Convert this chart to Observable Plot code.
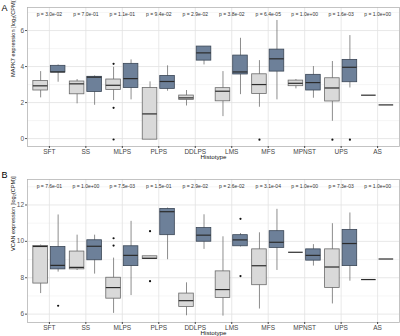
<!DOCTYPE html>
<html>
<head>
<meta charset="utf-8">
<script src="https://cdn.jsdelivr.net/npm/d3@7"></script>
<script src="https://cdn.jsdelivr.net/npm/@observablehq/plot@0.6"></script>
<style>
  html, body { margin: 0; padding: 0; background: #fff; }
  #chart { width: 400px; height: 336px; overflow: hidden; }
  #chart svg { display: block; }
</style>
</head>
<body>
<div id="chart"></div>
<script>
const categories = ["SFT","SS","MLPS","PLPS","DDLPS","LMS","MFS","MPNST","UPS","AS"];

// Panel A: MAPK7 (light = group 0, dark = group 1)
const mapk7LightLo  = [2.26,1.93,2.11,-0.06,1.81,1.22,1.74,2.76,0.96,2.41];
const mapk7LightQ1  = [2.67,2.46,2.70,-0.06,2.15,2.07,2.48,2.91,2.06,2.41];
const mapk7LightMed = [2.93,3.04,2.96,1.37,2.26,2.63,3.00,3.07,2.81,2.41];
const mapk7LightQ3  = [3.20,3.17,3.28,2.81,2.39,2.80,3.57,3.22,3.35,2.41];
const mapk7LightHi  = [3.72,3.28,3.96,3.15,2.67,3.72,4.33,3.28,4.28,2.41];
const mapk7DarkLo   = [3.13,1.85,2.15,2.63,4.09,2.44,2.15,2.24,2.81,1.87];
const mapk7DarkQ1   = [3.67,2.59,2.81,2.76,4.33,3.56,3.72,2.67,3.13,1.87];
const mapk7DarkMed  = [3.70,3.41,3.33,3.17,4.76,3.70,4.43,3.11,3.96,1.87];
const mapk7DarkQ3   = [4.04,3.43,4.15,3.48,5.11,4.61,4.94,3.54,4.37,1.87];
const mapk7DarkHi   = [4.09,3.48,4.37,4.04,5.11,5.57,6.56,4.00,5.72,1.87];
const mapk7OutCat   = ["MLPS","MLPS","MLPS","MFS","UPS","UPS"];
const mapk7OutGroup = [0,0,0,0,0,1];
const mapk7OutVal   = [4.15,1.71,-0.05,-0.06,-0.06,-0.06];
const mapk7P = ["3.0e-02","7.0e-01","1.1e-01","9.4e-02","2.9e-02","3.8e-02","6.4e-05","1.0e+00","1.6e-03","1.0e+00"];
const mapk7Ticks = [0,2,4,6];
const mapk7Minor = [1,3,5,7];

// Panel B: VCAN
const vcanLightLo  = [7.13,8.40,6.04,9.03,5.91,5.89,6.28,9.40,6.56,7.90];
const vcanLightQ1  = [7.68,8.46,6.85,9.03,6.39,6.89,7.59,9.40,7.44,7.90];
const vcanLightMed = [9.72,8.57,7.46,9.07,6.74,7.35,8.66,9.40,8.59,7.90];
const vcanLightQ3  = [9.75,9.44,8.00,9.18,7.13,8.35,9.56,9.40,9.56,7.90];
const vcanLightHi  = [9.80,10.34,9.08,9.18,7.72,10.25,10.47,9.40,10.97,7.90];
const vcanDarkLo   = [8.31,8.20,7.02,8.99,9.56,9.69,8.40,8.64,7.81,9.03];
const vcanDarkQ1   = [8.46,8.96,8.64,10.34,9.98,9.73,9.64,8.94,8.64,9.03];
const vcanDarkMed  = [8.68,9.73,9.23,11.63,10.34,10.08,9.95,9.23,9.88,9.03];
const vcanDarkQ3   = [9.69,10.06,9.73,11.78,10.73,10.34,10.56,9.56,10.63,9.03];
const vcanDarkHi   = [11.45,10.34,11.10,11.83,11.46,10.43,11.76,9.82,11.56,9.03];
const vcanOutCat   = ["SFT","MLPS","MLPS","PLPS","PLPS","LMS","LMS"];
const vcanOutGroup = [1,0,0,0,0,1,1];
const vcanOutVal   = [6.46,10.17,9.77,10.56,7.81,11.24,8.09];
const vcanP = ["7.6e-01","1.0e+00","7.5e-03","1.5e-01","2.9e-02","2.6e-02","3.1e-04","1.0e+00","7.3e-03","1.0e+00"];
const vcanTicks = [6,8,10,12];
const vcanMinor = [7,9,11,13];

const groupColors = ["#d9d9d9", "#6d8099"];
const groupStroke = ["#6a6a6a", "#3a4656"];
const OFF = 0.24, HALF = 0.2;
const FONT = "Liberation Sans, Arial, Helvetica, sans-serif";

function panel(cfg) {
  const rows = [];
  for (let g = 0; g < 2; g++) {
    const s = cfg.stats[g];
    categories.forEach((c, i) => {
      const x = i + (g === 0 ? -OFF : OFF);
      rows.push({g, x, xa: x - HALF, xb: x + HALF,
        lo: s[0][i], q1: s[1][i], med: s[2][i], q3: s[3][i], hi: s[4][i]});
    });
  }
  const outs = cfg.outCat.map((c, k) => ({
    x: categories.indexOf(c) + (cfg.outGroup[k] === 0 ? -OFF : OFF),
    y: cfg.outVal[k]
  }));
  const pv = cfg.p.map((p, i) => ({i, label: "p = " + p}));
  const idx = d3.range(categories.length);
  return Plot.plot({
    width: 400, height: cfg.height,
    marginLeft: 27, marginRight: 1,
    marginTop: cfg.marginTop, marginBottom: cfg.marginBottom,
    style: {fontFamily: FONT, background: "white", overflow: "visible"},
    x: {domain: [-0.6, 9.6], axis: null},
    y: {domain: cfg.yDomain, axis: null},
    marks: [
      Plot.ruleY(cfg.minor, {stroke: "#ececec", strokeWidth: 0.5}),
      Plot.ruleY(cfg.ticks, {stroke: "#e2e2e2", strokeWidth: 0.8}),
      Plot.ruleX(idx, {stroke: "#e2e2e2", strokeWidth: 0.8}),
      Plot.ruleX(rows, {x: "x", y1: "lo", y2: "hi", stroke: "#707070", strokeWidth: 0.8}),
      Plot.rect(rows, {x1: "xa", x2: "xb", y1: "q1", y2: "q3",
        fill: d => groupColors[d.g], stroke: d => groupStroke[d.g], strokeWidth: 0.8}),
      Plot.ruleY(rows, {y: "med", x1: "xa", x2: "xb", stroke: "#2b2b2b", strokeWidth: 1.2}),
      Plot.dot(outs, {x: "x", y: "y", r: 1.1, fill: "#111", stroke: null}),
      Plot.text(pv, {x: "i", text: "label", frameAnchor: "top", dy: 4.5, fontSize: 5, fill: "#333"}),
      Plot.frame({stroke: "#b5b5b5", strokeWidth: 0.8}),
      Plot.axisY(cfg.ticks, {tickSize: 2, tickPadding: 1.5, fontSize: 6.5, color: "#555", label: null}),
      Plot.axisX(idx, {tickSize: 2, tickPadding: 0.5, fontSize: 6.5, color: "#444",
        tickFormat: i => categories[i], label: null}),
      Plot.text([cfg.yLabel], {frameAnchor: "left", rotate: -90, dx: -14, fontSize: 5.6, fill: "#111"}),
      Plot.text(["Histotype"], {frameAnchor: "bottom", dy: cfg.xLabelDy, fontSize: 6.2, fill: "#111"}),
      Plot.text([cfg.letter], {frameAnchor: "top-left", dx: -23, dy: cfg.letterDy, fontSize: 9, fill: "#000", textAnchor: "middle"})
    ]
  });
}

const chart = document.getElementById("chart");
chart.append(panel({
  stats: [[mapk7LightLo, mapk7LightQ1, mapk7LightMed, mapk7LightQ3, mapk7LightHi],
          [mapk7DarkLo, mapk7DarkQ1, mapk7DarkMed, mapk7DarkQ3, mapk7DarkHi]],
  outCat: mapk7OutCat, outGroup: mapk7OutGroup, outVal: mapk7OutVal,
  p: mapk7P, ticks: mapk7Ticks, minor: mapk7Minor,
  yDomain: [-0.44, 7.28], height: 170, marginTop: 7, marginBottom: 24,
  yLabel: "MAPK7 expression [log₂(CPM)]", letter: "A", letterDy: -3, xLabelDy: 12.5
}));
chart.append(panel({
  stats: [[vcanLightLo, vcanLightQ1, vcanLightMed, vcanLightQ3, vcanLightHi],
          [vcanDarkLo, vcanDarkQ1, vcanDarkMed, vcanDarkQ3, vcanDarkHi]],
  outCat: vcanOutCat, outGroup: vcanOutGroup, outVal: vcanOutVal,
  p: vcanP, ticks: vcanTicks, minor: vcanMinor,
  yDomain: [5.54, 13.4], height: 166, marginTop: 9, marginBottom: 14,
  yLabel: "VCAN expression [log₂(CPM)]", letter: "B", letterDy: -8, xLabelDy: 12
}));
</script>
</body>
</html>
